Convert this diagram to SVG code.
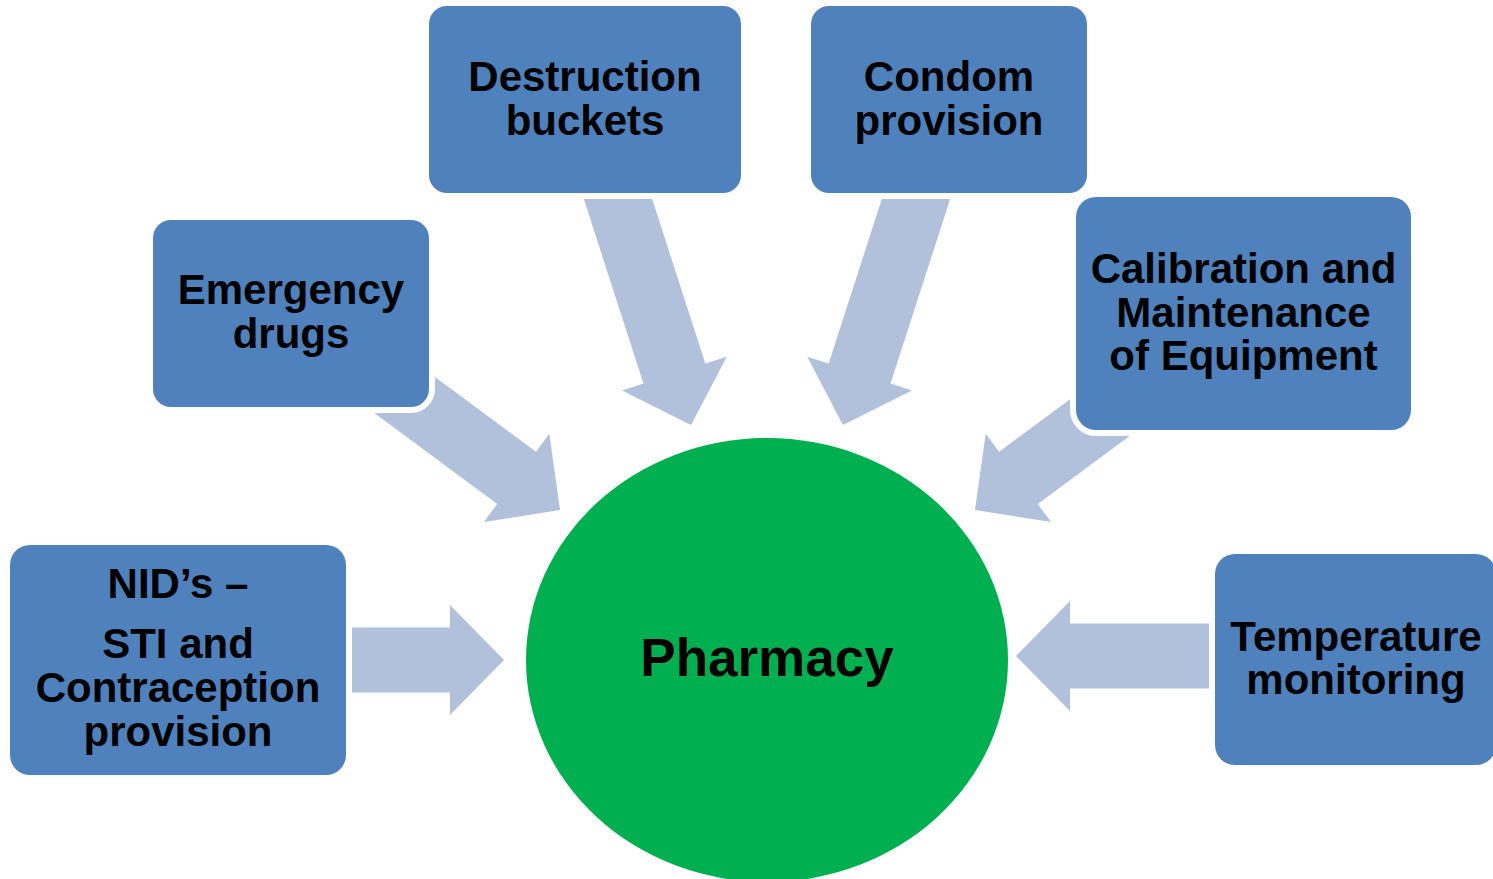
<svg xmlns="http://www.w3.org/2000/svg" width="1493" height="879" viewBox="0 0 1493 879">
<style>
.box{fill:#4F81BD;stroke:#FFFFFF;stroke-width:12;paint-order:stroke}
.arr{fill:#B1C1DC}
.t{font-family:"Liberation Sans",Arial,sans-serif;font-weight:bold;font-size:42px;fill:#000;text-anchor:middle}
.big{font-size:53px}
</style>
<defs>
<polygon id="a165" points="-165,-32.5 -54,-32.5 -54,-55 0,0 -54,55 -54,32.5 -165,32.5"/>
<polygon id="a215" points="-215,-32.5 -54,-32.5 -54,-55 0,0 -54,55 -54,32.5 -215,32.5"/>
<polygon id="a270" points="-270,-32.5 -54,-32.5 -54,-55 0,0 -54,55 -54,32.5 -270,32.5"/>
</defs>
<g id="connectors" class="arr">
<use href="#a165" transform="translate(504,660)"/>
<use href="#a215" transform="translate(1016,656) rotate(180)"/>
<use href="#a215" transform="translate(560,510) rotate(36.5)"/>
<use href="#a215" transform="translate(975,510) rotate(143.5)"/>
<use href="#a270" transform="translate(691,425) rotate(72.1)"/>
<use href="#a270" transform="translate(843,425) rotate(107.9)"/>
</g>
<g id="pharmacy">
<ellipse cx="767" cy="660" rx="241" ry="222" fill="#00B050"/>
<text class="t big" x="767" y="676">Pharmacy</text>
</g>
<g id="destruction">
<rect class="box" x="429" y="6" width="312" height="187" rx="18"/>
<text class="t" x="585" y="91">Destruction</text>
<text class="t" x="585" y="135">buckets</text>
</g>
<g id="condom">
<rect class="box" x="811" y="6" width="276" height="187" rx="18"/>
<text class="t" x="949" y="91">Condom</text>
<text class="t" x="949" y="135">provision</text>
</g>
<g id="emergency">
<rect class="box" x="153" y="220" width="276" height="187" rx="18"/>
<text class="t" x="291" y="304">Emergency</text>
<text class="t" x="291" y="348">drugs</text>
</g>
<g id="calibration">
<rect class="box" x="1076" y="197" width="335" height="233" rx="20"/>
<text class="t" x="1243.5" y="283">Calibration and</text>
<text class="t" x="1243.5" y="327">Maintenance</text>
<text class="t" x="1243.5" y="370">of Equipment</text>
</g>
<g id="nid">
<rect class="box" x="10" y="545" width="336" height="230" rx="20"/>
<text class="t" x="178" y="598">NID’s –</text>
<text class="t" x="178" y="658">STI and</text>
<text class="t" x="178" y="702">Contraception</text>
<text class="t" x="178" y="746">provision</text>
</g>
<g id="temperature">
<rect class="box" x="1215" y="554" width="281" height="211" rx="20"/>
<text class="t" x="1356" y="651">Temperature</text>
<text class="t" x="1356" y="694">monitoring</text>
</g>
</svg>
